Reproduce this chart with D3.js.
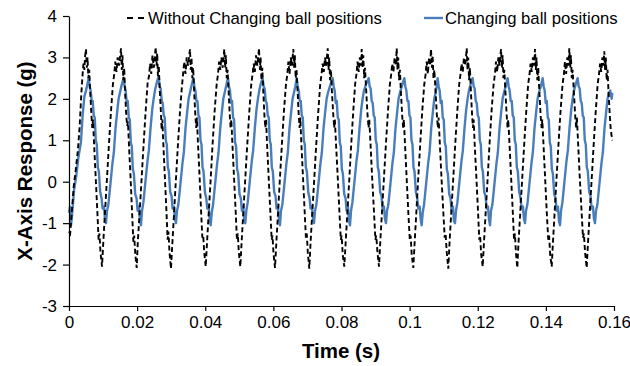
<!DOCTYPE html>
<html>
<head>
<meta charset="utf-8">
<script src="https://cdn.jsdelivr.net/npm/d3@7"></script>
<style>
  body { margin: 0; background: #fff; }
  svg { display: block; font-family: "Liberation Sans", Arial, sans-serif; }
</style>
</head>
<body>
<div id="chart"></div>
<script>
// time in ms, response in g
const withoutBall = [
  [0, -1.2], [0.35, -1.25], [0.8, -0.75], [1.4, -0.1], [2.0, 0.3], [2.6, 0.75], [3.1, 1.3], [3.6, 2.1], [4.0, 2.6], [4.25, 2.85], [4.5, 2.7], [4.75, 3.05], [4.99, 3.2],
  [5.24, 2.75], [5.44, 3.0], [5.69, 2.5], [5.94, 2.7], [6.24, 2.15], [6.59, 1.6], [6.84, 1.3], [7.04, 1.5], [7.34, 0.95], [7.84, 0.1], [8.34, -0.75], [8.69, -1.4], [8.94, -1.25], [9.24, -1.7], [9.69, -2.05],
  [10.04, -1.5], [10.49, -0.85], [11.09, 0.0], [11.69, 0.85], [12.29, 1.65], [12.89, 2.35], [13.29, 2.6], [13.59, 2.9], [13.94, 2.65], [14.29, 3.0], [14.69, 2.8], [15.27, 3.22],
  [15.5, 2.7], [15.7, 3.05], [15.95, 2.45], [16.2, 2.75], [16.5, 2.1], [16.85, 1.55], [17.1, 1.35], [17.3, 1.45], [17.6, 0.9], [18.1, 0.05], [18.55, -0.8], [18.9, -1.45], [19.15, -1.3], [19.45, -1.75], [19.88, -2.08],
  [20.2, -1.45], [20.7, -0.8], [21.3, 0.05], [21.9, 0.9], [22.5, 1.7], [23.1, 2.4], [23.5, 2.55], [23.8, 2.85], [24.15, 2.6], [24.5, 3.05], [24.9, 2.75], [25.45, 3.25],
  [25.7, 2.8], [25.9, 3.1], [26.1, 2.55], [26.35, 2.8], [26.65, 2.2], [27.0, 1.65], [27.2, 1.25], [27.4, 1.5], [27.7, 0.9], [28.15, 0.1], [28.6, -0.7], [28.95, -1.4], [29.2, -1.2], [29.5, -1.7], [29.94, -2.1],
  [30.3, -1.55], [30.75, -0.9], [31.35, 0.0], [31.95, 0.85], [32.55, 1.65], [33.15, 2.3], [33.55, 2.65], [33.85, 2.9], [34.2, 2.6], [34.55, 3.0], [34.95, 2.8], [35.52, 3.2],
  [35.75, 2.7], [35.95, 3.0], [36.2, 2.5], [36.45, 2.75], [36.75, 2.15], [37.1, 1.6], [37.35, 1.3], [37.55, 1.55], [37.85, 0.95], [38.35, 0.1], [38.8, -0.75], [39.15, -1.35], [39.4, -1.3], [39.7, -1.7], [40.13, -2.05],
  [40.5, -1.5], [40.95, -0.85], [41.55, 0.0], [42.15, 0.9], [42.75, 1.7], [43.35, 2.35], [43.75, 2.6], [44.05, 2.9], [44.4, 2.7], [44.75, 3.0], [45.1, 2.75], [45.59, 3.2],
  [45.85, 2.75], [46.05, 3.05], [46.3, 2.5], [46.55, 2.7], [46.85, 2.2], [47.2, 1.6], [47.45, 1.3], [47.65, 1.5], [47.95, 0.95], [48.45, 0.1], [48.95, -0.75], [49.3, -1.4], [49.55, -1.25], [49.85, -1.7], [50.29, -2.05],
  [50.65, -1.5], [51.1, -0.85], [51.7, 0.0], [52.3, 0.85], [52.9, 1.65], [53.5, 2.35], [53.9, 2.6], [54.2, 2.85], [54.55, 2.65], [54.9, 3.05], [55.3, 2.8], [55.78, 3.22],
  [56.05, 2.7], [56.25, 3.0], [56.5, 2.45], [56.75, 2.75], [57.05, 2.15], [57.4, 1.55], [57.65, 1.3], [57.85, 1.5], [58.15, 0.9], [58.65, 0.05], [59.15, -0.8], [59.5, -1.4], [59.75, -1.3], [60.05, -1.75], [60.48, -2.08],
  [60.85, -1.5], [61.3, -0.85], [61.9, 0.05], [62.5, 0.9], [63.1, 1.7], [63.7, 2.35], [64.1, 2.6], [64.4, 2.9], [64.75, 2.6], [65.1, 3.0], [65.45, 2.8], [65.85, 3.2],
  [66.1, 2.75], [66.3, 3.05], [66.55, 2.5], [66.8, 2.7], [67.1, 2.2], [67.45, 1.6], [67.7, 1.3], [67.9, 1.55], [68.2, 0.95], [68.7, 0.1], [69.2, -0.75], [69.55, -1.35], [69.8, -1.25], [70.1, -1.7], [70.55, -2.1],
  [70.9, -1.5], [71.35, -0.85], [71.95, 0.0], [72.55, 0.85], [73.15, 1.65], [73.75, 2.35], [74.15, 2.6], [74.45, 2.85], [74.8, 2.65], [75.15, 3.0], [75.5, 2.8], [75.95, 3.22],
  [76.2, 2.7], [76.4, 3.0], [76.65, 2.45], [76.9, 2.7], [77.2, 2.15], [77.6, 1.6], [77.85, 1.3], [78.05, 1.5], [78.4, 0.9], [78.9, 0.1], [79.4, -0.75], [79.8, -1.4], [80.05, -1.3], [80.35, -1.75], [80.82, -2.05],
  [81.2, -1.5], [81.65, -0.85], [82.25, 0.0], [82.85, 0.9], [83.45, 1.7], [84.0, 2.35], [84.4, 2.6], [84.7, 2.9], [85.05, 2.65], [85.4, 3.0], [85.7, 2.8], [85.93, 3.2],
  [86.2, 2.75], [86.4, 3.05], [86.65, 2.5], [86.9, 2.75], [87.25, 2.2], [87.65, 1.6], [87.95, 1.3], [88.15, 1.5], [88.5, 0.95], [89.0, 0.1], [89.55, -0.75], [89.95, -1.4], [90.2, -1.3], [90.55, -1.7], [91.01, -2.05],
  [91.35, -1.5], [91.8, -0.85], [92.4, 0.0], [93.0, 0.85], [93.6, 1.65], [94.2, 2.35], [94.6, 2.6], [94.9, 2.85], [95.25, 2.65], [95.6, 3.0], [95.95, 2.8], [96.21, 3.22],
  [96.45, 2.7], [96.65, 3.0], [96.9, 2.45], [97.15, 2.7], [97.45, 2.15], [97.85, 1.55], [98.1, 1.3], [98.3, 1.5], [98.65, 0.9], [99.15, 0.05], [99.65, -0.8], [100.05, -1.4], [100.3, -1.3], [100.6, -1.75], [101.08, -2.08],
  [101.45, -1.5], [101.9, -0.85], [102.5, 0.05], [103.1, 0.9], [103.7, 1.7], [104.3, 2.35], [104.7, 2.6], [105.0, 2.9], [105.35, 2.6], [105.7, 3.0], [106.0, 2.8], [106.28, 3.2],
  [106.55, 2.75], [106.75, 3.05], [107.0, 2.5], [107.25, 2.7], [107.6, 2.2], [108.0, 1.6], [108.3, 1.3], [108.5, 1.55], [108.85, 0.95], [109.35, 0.1], [109.9, -0.75], [110.3, -1.35], [110.55, -1.25], [110.9, -1.7], [111.35, -2.1],
  [111.7, -1.5], [112.15, -0.85], [112.75, 0.0], [113.35, 0.85], [113.95, 1.65], [114.55, 2.35], [114.95, 2.6], [115.25, 2.85], [115.6, 2.65], [115.95, 3.0], [116.35, 2.8], [116.76, 3.22],
  [117.0, 2.7], [117.2, 3.0], [117.45, 2.45], [117.7, 2.75], [118.0, 2.15], [118.35, 1.6], [118.6, 1.3], [118.8, 1.5], [119.1, 0.9], [119.6, 0.1], [120.1, -0.75], [120.45, -1.4], [120.7, -1.3], [121.0, -1.75], [121.45, -2.05],
  [121.8, -1.5], [122.25, -0.85], [122.85, 0.0], [123.45, 0.9], [124.05, 1.7], [124.65, 2.35], [125.05, 2.6], [125.35, 2.9], [125.7, 2.65], [126.05, 3.0], [126.4, 2.8], [126.83, 3.2],
  [127.1, 2.75], [127.3, 3.05], [127.55, 2.5], [127.8, 2.7], [128.1, 2.2], [128.5, 1.6], [128.75, 1.3], [128.95, 1.5], [129.3, 0.95], [129.8, 0.1], [130.3, -0.75], [130.65, -1.4], [130.9, -1.25], [131.2, -1.7], [131.61, -2.08],
  [131.95, -1.5], [132.4, -0.85], [133.0, 0.0], [133.6, 0.85], [134.2, 1.65], [134.8, 2.35], [135.2, 2.6], [135.5, 2.85], [135.85, 2.65], [136.2, 3.0], [136.5, 2.8], [136.81, 3.2],
  [137.05, 2.7], [137.25, 3.0], [137.5, 2.45], [137.75, 2.75], [138.1, 2.15], [138.5, 1.55], [138.75, 1.3], [138.95, 1.5], [139.3, 0.9], [139.8, 0.05], [140.3, -0.8], [140.7, -1.4], [140.95, -1.3], [141.25, -1.75], [141.71, -2.05],
  [142.05, -1.5], [142.5, -0.85], [143.1, 0.05], [143.7, 0.9], [144.3, 1.7], [144.9, 2.35], [145.3, 2.6], [145.6, 2.9], [145.95, 2.6], [146.3, 3.0], [146.6, 2.8], [146.88, 3.22],
  [147.15, 2.75], [147.35, 3.05], [147.6, 2.5], [147.85, 2.7], [148.2, 2.2], [148.6, 1.6], [148.9, 1.3], [149.1, 1.55], [149.45, 0.95], [149.95, 0.1], [150.5, -0.75], [150.9, -1.35], [151.15, -1.25], [151.5, -1.7], [151.98, -2.08],
  [152.35, -1.5], [152.8, -0.85], [153.4, 0.0], [154.0, 0.85], [154.6, 1.65], [155.2, 2.35], [155.6, 2.6], [155.9, 2.85], [156.25, 2.65], [156.6, 3.0], [156.9, 2.8], [157.15, 3.15],
  [157.4, 2.7], [157.6, 3.0], [157.85, 2.45], [158.1, 2.7], [158.4, 2.15], [158.8, 1.55], [159.05, 1.25], [159.5, 1.0]
];

const changingBall = [
  [0, -0.75], [0.3, -0.6], [0.6, -1.05], [0.9, -0.8], [1.5, -0.2], [2.1, 0.12], [2.7, 0.55], [3.5, 0.95], [4.0, 1.6], [4.5, 2.05], [5.0, 2.2], [5.4, 2.35], [5.76, 2.5],
  [6.06, 2.3], [6.36, 2.2], [6.66, 1.95], [6.96, 1.95], [7.26, 1.6], [7.56, 1.55], [7.86, 1.0], [8.16, 0.9], [8.46, 0.35], [8.76, 0.25], [9.16, -0.25], [9.56, -0.4], [9.86, -0.65], [10.26, -0.6], [10.56, -0.9], [10.86, -1.0],
  [11.16, -0.7], [11.56, -0.55], [12.16, -0.05], [12.76, 0.45], [13.16, 0.7], [13.66, 1.3], [14.16, 1.7], [14.56, 2.0], [14.96, 2.15], [15.36, 2.3], [16.04, 2.5],
  [16.34, 2.3], [16.64, 2.2], [16.94, 1.9], [17.24, 1.95], [17.54, 1.55], [17.84, 1.5], [18.14, 0.95], [18.44, 0.85], [18.74, 0.3], [19.04, 0.2], [19.44, -0.3], [19.84, -0.4], [20.14, -0.7], [20.54, -0.6], [20.84, -0.95], [21.14, -1.05],
  [21.44, -0.7], [21.84, -0.5], [22.44, 0.0], [23.04, 0.5], [23.44, 0.75], [23.94, 1.3], [24.44, 1.75], [24.84, 2.0], [25.24, 2.2], [25.64, 2.35], [26.31, 2.55],
  [26.61, 2.3], [26.91, 2.25], [27.21, 1.95], [27.51, 1.9], [27.81, 1.6], [28.11, 1.55], [28.41, 1.0], [28.71, 0.9], [29.01, 0.35], [29.31, 0.25], [29.71, -0.25], [30.11, -0.35], [30.41, -0.65], [30.81, -0.6], [31.11, -0.9], [31.41, -1.0],
  [31.71, -0.7], [32.11, -0.55], [32.71, -0.05], [33.31, 0.45], [33.71, 0.7], [34.21, 1.3], [34.71, 1.7], [35.11, 2.0], [35.51, 2.15], [35.91, 2.3], [36.5, 2.5],
  [36.8, 2.3], [37.1, 2.2], [37.4, 1.95], [37.7, 1.95], [38.0, 1.6], [38.3, 1.55], [38.6, 1.0], [38.9, 0.9], [39.2, 0.35], [39.5, 0.25], [39.9, -0.25], [40.3, -0.4], [40.6, -0.65], [41.0, -0.6], [41.3, -0.9], [41.6, -1.05],
  [41.9, -0.75], [42.3, -0.55], [42.9, -0.05], [43.5, 0.45], [43.9, 0.7], [44.4, 1.3], [44.9, 1.7], [45.3, 2.0], [45.7, 2.15], [46.1, 2.3], [46.66, 2.5],
  [46.96, 2.3], [47.26, 2.2], [47.56, 1.9], [47.86, 1.95], [48.16, 1.55], [48.46, 1.5], [48.76, 0.95], [49.06, 0.85], [49.36, 0.3], [49.66, 0.2], [50.06, -0.3], [50.46, -0.4], [50.76, -0.7], [51.16, -0.6], [51.46, -0.95], [51.76, -1.0],
  [52.06, -0.7], [52.46, -0.5], [53.06, 0.0], [53.66, 0.5], [54.06, 0.75], [54.56, 1.3], [55.06, 1.75], [55.46, 2.0], [55.86, 2.2], [56.26, 2.35], [56.84, 2.5],
  [57.14, 2.3], [57.44, 2.25], [57.74, 1.95], [58.04, 1.9], [58.34, 1.6], [58.64, 1.55], [58.94, 1.0], [59.24, 0.9], [59.54, 0.35], [59.84, 0.25], [60.24, -0.25], [60.64, -0.35], [60.94, -0.65], [61.34, -0.6], [61.64, -0.9], [61.94, -1.05],
  [62.24, -0.7], [62.64, -0.55], [63.24, -0.05], [63.84, 0.45], [64.24, 0.7], [64.74, 1.3], [65.24, 1.7], [65.64, 2.0], [66.04, 2.15], [66.44, 2.3], [66.83, 2.5],
  [67.13, 2.3], [67.43, 2.2], [67.73, 1.95], [68.03, 1.95], [68.33, 1.6], [68.63, 1.55], [68.93, 1.0], [69.23, 0.9], [69.53, 0.35], [69.83, 0.25], [70.23, -0.25], [70.63, -0.4], [70.93, -0.65], [71.33, -0.6], [71.63, -0.9], [71.93, -1.0],
  [72.23, -0.7], [72.63, -0.55], [73.23, -0.05], [73.83, 0.45], [74.23, 0.7], [74.73, 1.3], [75.23, 1.7], [75.63, 2.0], [76.03, 2.15], [76.6, 2.3], [77.4, 2.5],
  [77.7, 2.3], [78.0, 2.2], [78.3, 1.9], [78.6, 1.95], [78.9, 1.55], [79.2, 1.5], [79.5, 0.95], [79.8, 0.85], [80.1, 0.3], [80.4, 0.2], [80.8, -0.3], [81.2, -0.4], [81.5, -0.7], [81.9, -0.6], [82.2, -0.95], [82.5, -1.05],
  [82.8, -0.7], [83.2, -0.5], [83.8, 0.0], [84.4, 0.5], [84.8, 0.75], [85.3, 1.3], [85.8, 1.75], [86.2, 2.0], [86.6, 2.2], [87.2, 2.35], [87.96, 2.5],
  [88.26, 2.3], [88.56, 2.25], [88.86, 1.95], [89.16, 1.9], [89.46, 1.6], [89.76, 1.55], [90.06, 1.0], [90.36, 0.9], [90.66, 0.35], [90.96, 0.25], [91.36, -0.25], [91.76, -0.35], [92.06, -0.65], [92.46, -0.6], [92.76, -0.9], [93.06, -1.0],
  [93.36, -0.7], [93.76, -0.55], [94.36, -0.05], [94.96, 0.45], [95.36, 0.7], [95.86, 1.3], [96.36, 1.7], [96.76, 2.0], [97.16, 2.15], [97.7, 2.3], [98.44, 2.5],
  [98.74, 2.3], [99.04, 2.2], [99.34, 1.95], [99.64, 1.95], [99.94, 1.6], [100.24, 1.55], [100.54, 1.0], [100.84, 0.9], [101.14, 0.35], [101.44, 0.25], [101.84, -0.25], [102.24, -0.4], [102.54, -0.65], [102.94, -0.6], [103.24, -0.9], [103.54, -1.05],
  [103.84, -0.75], [104.24, -0.55], [104.84, -0.05], [105.44, 0.45], [105.84, 0.7], [106.34, 1.3], [106.84, 1.7], [107.24, 2.0], [107.64, 2.15], [107.94, 2.3], [108.22, 2.5],
  [108.52, 2.3], [108.82, 2.2], [109.12, 1.9], [109.42, 1.95], [109.72, 1.55], [110.02, 1.5], [110.32, 0.95], [110.62, 0.85], [110.92, 0.3], [111.22, 0.2], [111.62, -0.3], [112.02, -0.4], [112.32, -0.7], [112.72, -0.6], [113.02, -0.95], [113.32, -1.0],
  [113.62, -0.7], [114.02, -0.5], [114.62, 0.0], [115.22, 0.5], [115.62, 0.75], [116.12, 1.3], [116.62, 1.75], [117.02, 2.0], [117.42, 2.2], [117.9, 2.35], [118.5, 2.5],
  [118.8, 2.3], [119.1, 2.25], [119.4, 1.95], [119.7, 1.9], [120.0, 1.6], [120.3, 1.55], [120.6, 1.0], [120.9, 0.9], [121.2, 0.35], [121.5, 0.25], [121.9, -0.25], [122.3, -0.35], [122.6, -0.65], [123.0, -0.6], [123.3, -0.9], [123.6, -1.05],
  [123.9, -0.7], [124.3, -0.55], [124.9, -0.05], [125.5, 0.45], [125.9, 0.7], [126.4, 1.3], [126.9, 1.7], [127.3, 2.0], [127.7, 2.15], [128.2, 2.3], [128.77, 2.5],
  [129.07, 2.3], [129.37, 2.2], [129.67, 1.95], [129.97, 1.95], [130.27, 1.6], [130.57, 1.55], [130.87, 1.0], [131.17, 0.9], [131.47, 0.35], [131.77, 0.25], [132.17, -0.25], [132.57, -0.4], [132.87, -0.65], [133.27, -0.6], [133.57, -0.9], [133.87, -1.0],
  [134.17, -0.7], [134.57, -0.55], [135.17, -0.05], [135.77, 0.45], [136.17, 0.7], [136.67, 1.3], [137.17, 1.7], [137.57, 2.0], [137.97, 2.15], [138.5, 2.3], [139.05, 2.5],
  [139.35, 2.3], [139.65, 2.2], [139.95, 1.9], [140.25, 1.95], [140.55, 1.55], [140.85, 1.5], [141.15, 0.95], [141.45, 0.85], [141.75, 0.3], [142.05, 0.2], [142.45, -0.3], [142.85, -0.4], [143.15, -0.7], [143.55, -0.6], [143.85, -0.95], [144.15, -1.05],
  [144.45, -0.7], [144.85, -0.5], [145.45, 0.0], [146.05, 0.5], [146.45, 0.75], [146.95, 1.3], [147.45, 1.75], [147.85, 2.0], [148.25, 2.2], [148.75, 2.35], [149.32, 2.5],
  [149.62, 2.3], [149.92, 2.25], [150.22, 1.95], [150.52, 1.9], [150.82, 1.6], [151.12, 1.55], [151.42, 1.0], [151.72, 0.9], [152.02, 0.35], [152.32, 0.25], [152.72, -0.25], [153.12, -0.35], [153.42, -0.65], [153.82, -0.6], [154.12, -0.9], [154.42, -1.0],
  [154.72, -0.7], [155.12, -0.55], [155.72, -0.05], [156.32, 0.45], [156.72, 0.7], [157.22, 1.3], [157.72, 1.7], [158.12, 2.0], [158.52, 2.15], [158.9, 2.2], [159.3, 2.0], [159.5, 2.15]
];

const xTicks = [0, 0.02, 0.04, 0.06, 0.08, 0.1, 0.12, 0.14, 0.16];
const yTicks = [-3, -2, -1, 0, 1, 2, 3, 4];
const seriesNames = ['Without Changing ball positions', 'Changing ball positions'];

const width = 630, height = 366;
const margin = { top: 16, right: 16, bottom: 60, left: 69 };

const svg = d3.select('#chart').append('svg')
    .attr('width', width)
    .attr('height', height);

const x = d3.scaleLinear()
    .domain([0, 0.16])
    .range([margin.left, width - margin.right]);

const y = d3.scaleLinear()
    .domain([-3, 4])
    .range([height - margin.bottom, margin.top]);

const line = d3.line()
    .x(d => x(d[0] / 1000))
    .y(d => y(d[1]));

// series
svg.append('path')
    .datum(changingBall)
    .attr('fill', 'none')
    .attr('stroke', '#4a7ebb')
    .attr('stroke-width', 2.4)
    .attr('stroke-linejoin', 'round')
    .attr('d', line);

svg.append('path')
    .datum(withoutBall)
    .attr('fill', 'none')
    .attr('stroke', '#000')
    .attr('stroke-width', 1.9)
    .attr('stroke-dasharray', '5,3')
    .attr('d', line);

// axes
const xAxis = svg.append('g')
    .attr('transform', 'translate(0,' + y(-3) + ')')
    .call(d3.axisBottom(x).tickValues(xTicks).tickSize(5).tickSizeOuter(0)
        .tickFormat(d => String(+d.toFixed(2))));

const yAxis = svg.append('g')
    .attr('transform', 'translate(' + margin.left + ',0)')
    .call(d3.axisLeft(y).tickValues(yTicks).tickSize(6).tickSizeOuter(0)
        .tickFormat(d => String(d)));

[xAxis, yAxis].forEach(a => {
  a.select('.domain').attr('stroke', '#000').attr('stroke-width', 1.2);
  a.selectAll('.tick line').attr('stroke', '#000').attr('stroke-width', 1.2);
  a.selectAll('.tick text')
      .attr('fill', '#000')
      .style('font-size', '17px')
      .style('font-family', '"Liberation Sans", Arial, sans-serif');
});
xAxis.selectAll('.tick text').attr('y', 10);
yAxis.selectAll('.tick text').attr('x', -12);

// axis titles
svg.append('text')
    .attr('x', 341)
    .attr('y', 358)
    .attr('text-anchor', 'middle')
    .style('font-size', '20.5px')
    .style('font-weight', 'bold')
    .text('Time (s)');

svg.append('text')
    .attr('transform', 'translate(32,' + y(0.5) + ') rotate(-90)')
    .attr('text-anchor', 'middle')
    .style('font-size', '20.5px')
    .style('font-weight', 'bold')
    .text('X-Axis Response (g)');

// legend
const legend = svg.append('g');
legend.append('line')
    .attr('x1', 127).attr('x2', 145)
    .attr('y1', 18).attr('y2', 18)
    .attr('stroke', '#000').attr('stroke-width', 1.9)
    .attr('stroke-dasharray', '6,5');
legend.append('text')
    .attr('x', 148).attr('y', 24)
    .style('font-size', '16.7px')
    .text(seriesNames[0]);
legend.append('line')
    .attr('x1', 424).attr('x2', 443)
    .attr('y1', 18).attr('y2', 18)
    .attr('stroke', '#4a7ebb').attr('stroke-width', 2.4);
legend.append('text')
    .attr('x', 445).attr('y', 24)
    .style('font-size', '16.7px')
    .text(seriesNames[1]);
</script>
</body>
</html>
